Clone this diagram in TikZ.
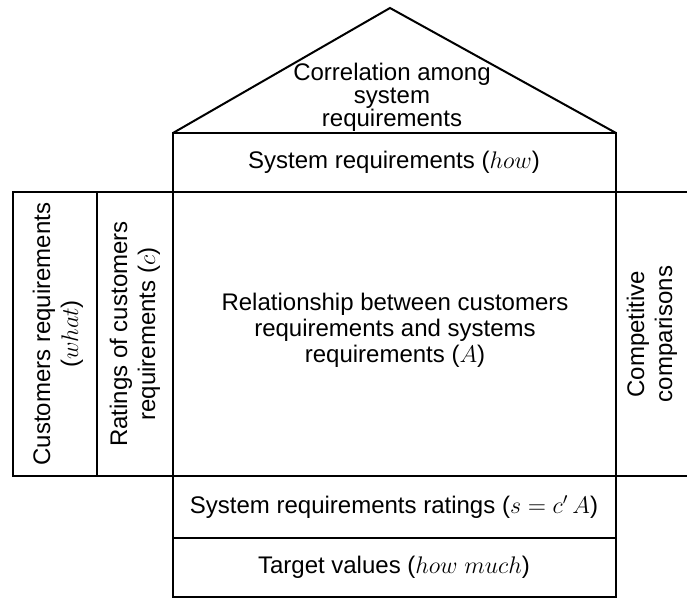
\documentclass[tikz,border=0pt]{standalone}
\usepackage{fontspec}
\setmainfont{Liberation Sans}

\begin{document}
\begin{tikzpicture}[x=0.5pt,y=-0.5pt,line width=1pt,
  every node/.style={font=\fontsize{12}{11.5}\selectfont,align=center,inner sep=0pt},
  wide/.style={font=\fontsize{12}{13}\selectfont},
  side/.style={rotate=90,font=\fontsize{12}{14}\selectfont}]
\useasboundingbox (0,0) rectangle (687,598);
% frame of the house
\draw (173,133) -- (390,8) -- (616,133);
\draw (173,133) rectangle (616,192);
\draw (13,192) rectangle (97,476);
\draw (97,192) rectangle (173,476);
\draw (173,192) rectangle (616,476);
\draw (616,192) -- (687,192);
\draw (616,476) -- (687,476);
\draw (173,476) rectangle (616,538);
\draw (173,538) rectangle (616,597);
% labels
\node (roof)   at (392,97)  {Correlation among\\system\\requirements};
\node (how)    at (394,162) {System requirements ($how$)};
\node[side] (what) at (58,334) {Customers requirements\\($what$)};
\node[side] (rate) at (135,334) {Ratings of customers\\requirements ($c$)};
\node[wide] (rel) at (395,330) {Relationship between customers\\requirements and systems\\requirements ($A$)};
\node[side] (comp) at (652,334) {Competitive\\comparisons};
\node (rating) at (394,507) {System requirements ratings ($s = c'\,A$)};
\node (target) at (394,567) {Target values ($how\ much$)};
\end{tikzpicture}
\end{document}
